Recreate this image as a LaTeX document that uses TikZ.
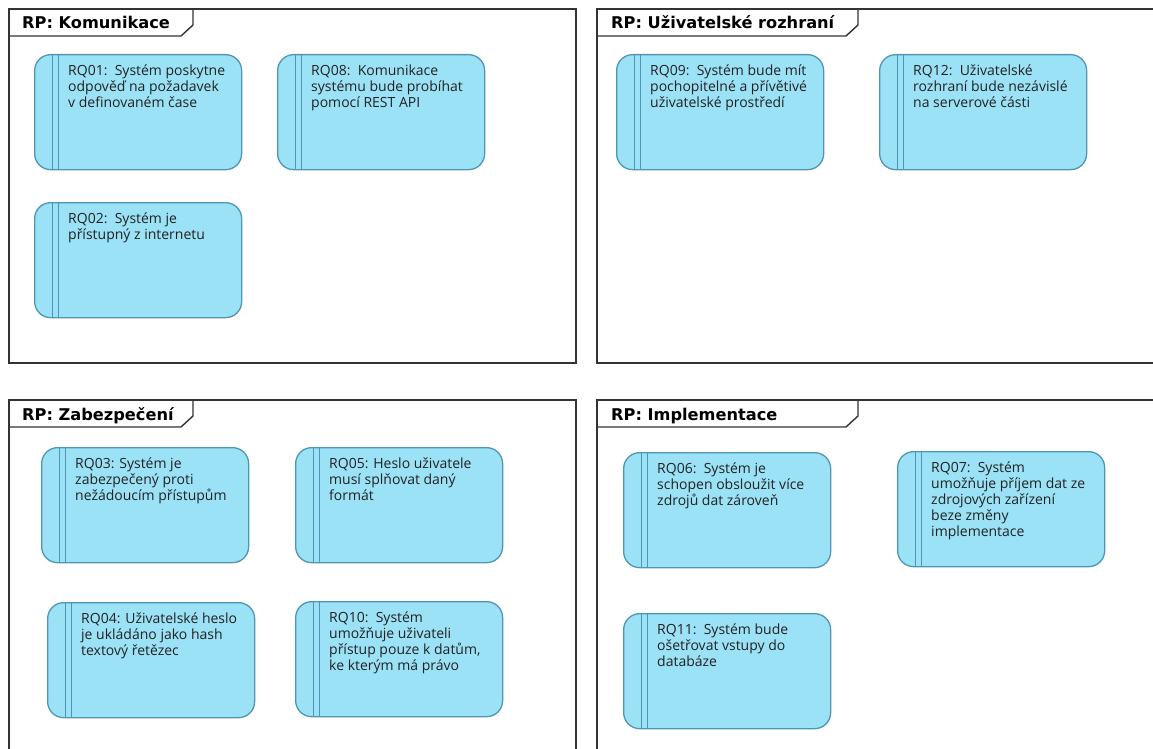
\documentclass[tikz,border=0pt]{standalone}
\usepackage{fontspec}
\setmainfont{Open Sans}
\newfontfamily\titlefont{DejaVu Sans}
\definecolor{reqfill}{HTML}{9BE2F7}
\definecolor{reqline}{HTML}{4E96B3}
\definecolor{framegray}{HTML}{333333}
\definecolor{textgray}{HTML}{222222}
\tikzset{
  frameline/.style={draw=framegray, line width=1.4pt},
  frametitle/.style={anchor=base west, inner sep=0pt, text=black,
    font=\titlefont\bfseries\fontsize{16.2}{18}\selectfont},
  req/.style={rectangle, draw=reqline, line width=1.3pt, fill=reqfill,
    rounded corners=16pt, minimum width=207pt, minimum height=115pt,
    inner sep=0pt, anchor=north west,
    path picture={
      \draw[reqline, line width=1.3pt]
        ([xshift=17.5pt]path picture bounding box.north west) --
        ([xshift=17.5pt]path picture bounding box.south west);
      \draw[reqline, line width=1.3pt]
        ([xshift=24pt]path picture bounding box.north west) --
        ([xshift=24pt]path picture bounding box.south west);
    }},
  % text block: top edge sits 12pt above the first baseline
  reqtext/.style={anchor=north west, align=left, inner sep=0pt, text=textgray,
    font=\fontsize{14}{16}\selectfont,
    execute at begin node={\rule{0pt}{12pt}}}
}
\begin{document}
\begin{tikzpicture}[x=1pt, y=-1pt]
\useasboundingbox (0,0) rectangle (1153,749);
\clip (0,0) rectangle (1153,749);

% package frames with their name tabs
\draw[frameline] (9,9) rectangle (576,363);
\draw[frameline] (9,36) -- (181,36) -- (193,25) -- (193,9);
\node[frametitle] (p1) at (22,29) {RP: Komunikace};

\draw[frameline] (597,9) rectangle (1170,363);
\draw[frameline] (597,36) -- (846,36) -- (858,25) -- (858,9);
\node[frametitle] (p2) at (611,29) {RP: Uživatelské rozhraní};

\draw[frameline] (9,400) rectangle (576,770);
\draw[frameline] (9,427) -- (181,427) -- (193,416) -- (193,400);
\node[frametitle] (p3) at (22,420) {RP: Zabezpečení};

\draw[frameline] (597,400) rectangle (1170,770);
\draw[frameline] (597,427) -- (846,427) -- (858,416) -- (858,400);
\node[frametitle] (p4) at (611,420) {RP: Implementace};

% requirements: Komunikace
\node[req] (r01) at (34,54) {};
\node[reqtext] (t01) at (68,65) {RQ01:~~Systém poskytne\\odpověď na požadavek\\v definovaném čase};
\node[req] (r08) at (277,54) {};
\node[reqtext] (t08) at (311,65) {RQ08:~~Komunikace\\systému bude probíhat\\pomocí REST API};
\node[req] (r02) at (34,202) {};
\node[reqtext] (t02) at (68,213) {RQ02:~~Systém je\\přístupný z internetu};

% requirements: Uživatelské rozhraní
\node[req] (r09) at (616,54) {};
\node[reqtext] (t09) at (650,65) {RQ09:~~Systém bude mít\\pochopitelné a přívětivé\\uživatelské prostředí};
\node[req] (r12) at (879,54) {};
\node[reqtext] (t12) at (913,65) {RQ12:~~Uživatelské\\rozhraní bude nezávislé\\na serverové části};

% requirements: Zabezpečení
\node[req] (r03) at (41,447) {};
\node[reqtext] (t03) at (75,458) {RQ03: Systém je\\zabezpečený proti\\nežádoucím přístupům};
\node[req] (r05) at (295,447) {};
\node[reqtext] (t05) at (329,458) {RQ05: Heslo uživatele\\musí splňovat daný\\formát};
\node[req] (r04) at (47,602) {};
\node[reqtext] (t04) at (81,613) {RQ04: Uživatelské heslo\\je ukládáno jako hash\\textový řetězec};
\node[req] (r10) at (295,601) {};
\node[reqtext] (t10) at (329,612) {RQ10:~~Systém\\umožňuje uživateli\\přístup pouze k datům,\\ke kterým má právo};

% requirements: Implementace
\node[req] (r06) at (623,452) {};
\node[reqtext] (t06) at (657,463) {RQ06:~~Systém je\\schopen obsloužit více\\zdrojů dat zároveň};
\node[req] (r07) at (897,451) {};
\node[reqtext] (t07) at (931,462) {RQ07:~~Systém\\umožňuje příjem dat ze\\zdrojových zařízení\\beze změny\\implementace};
\node[req] (r11) at (623,613) {};
\node[reqtext] (t11) at (657,624) {RQ11:~~Systém bude\\ošetřovat vstupy do\\databáze};
\end{tikzpicture}
\end{document}
